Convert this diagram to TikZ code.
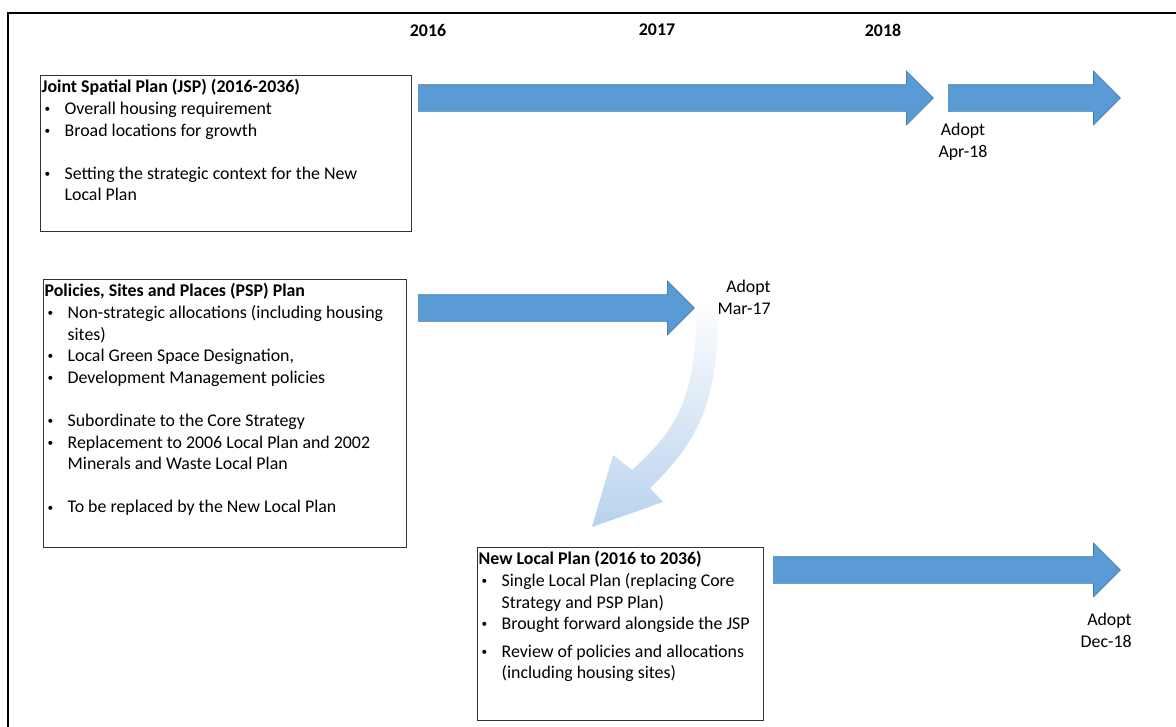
\documentclass[tikz,border=0pt]{standalone}
\usepackage{fontspec}
\setmainfont{Carlito}
\usepackage{tikz}
\usetikzlibrary{positioning}
\usetikzlibrary{shapes.arrows}

\definecolor{planblue}{RGB}{91,155,213}
\definecolor{fadeblue}{RGB}{184,210,237}

\newlength{\pxu}
\setlength{\pxu}{0.02165cm}

\newcommand{\planitem}[1]{\par\hangindent=23\pxu\hangafter=1\noindent
    \hspace*{3\pxu}\makebox[20\pxu][l]{\raisebox{0.2ex}{\scriptsize\textbullet}}#1}
\newcommand{\planskip}{\par\vspace{\baselineskip}}

\tikzset{
    planbox/.style={draw=black!80, line width=0.8pt, anchor=north west,
        inner xsep=1\pxu, inner ysep=4\pxu,
        font=\fontsize{11}{13.3}\selectfont},
    timearrow/.style={single arrow, fill=planblue,
        draw=planblue!80!black, line width=0.4pt,
        inner xsep=0pt, inner ysep=13\pxu,
        single arrow head extend=13.5\pxu, anchor=tail},
    yearlbl/.style={font=\bfseries\fontsize{11}{13.3}\selectfont},
    adoptlbl/.style={inner sep=0pt, font=\fontsize{11}{13.3}\selectfont}
}

\begin{document}
\begin{tikzpicture}[x=0.02165cm, y=-0.02165cm]
        \useasboundingbox (0,0) rectangle (1176,726);
        \draw[line width=1.2pt] (8,13) rectangle (1200,760);

        \foreach \yr/\xx in {2016/428, 2017/657, 2018/883}
        {
            \node[yearlbl] (y\yr) at (\xx,30) {\yr};
        }

        \node[planbox] (jsp) at (40,75)
        {\parbox[t][148\pxu][t]{369\pxu}{%
        \textbf{Joint Spatial Plan (JSP) (2016-2036)}
        \planitem{Overall housing requirement}
        \planitem{Broad locations for growth}
        \planskip
        \planitem{Setting the strategic context for the New\newline Local Plan}}};

        \node[planbox] (psp) at (43,279)
        {\parbox[t][260\pxu][t]{361\pxu}{%
        \textbf{Policies, Sites and Places (PSP) Plan}
        \planitem{Non-strategic allocations (including housing\newline sites)}
        \planitem{Local Green Space Designation,}
        \planitem{Development Management policies}
        \planskip
        \planitem{Subordinate to the Core Strategy}
        \planitem{Replacement to 2006 Local Plan and 2002\newline Minerals and Waste Local Plan}
        \planskip
        \planitem{To be replaced by the New Local Plan}}};

        \node[planbox] (nlp) at (477,547)
        {\parbox[t][165\pxu][t]{284\pxu}{%
        \textbf{New Local Plan (2016 to 2036)}
        \planitem{Single Local Plan (replacing Core\newline Strategy and PSP Plan)}
        \planitem{Brought forward alongside the JSP}
        \par\vspace{6\pxu}
        \planitem{Review of policies and allocations\newline (including housing sites)}}};

        % timeline arrows
        \node[timearrow, minimum height=515\pxu] (jsparrow) at (418,98) {};
        \node[timearrow, minimum height=172\pxu] (jsplater) at (948,98) {};
        \node[timearrow, minimum height=276\pxu] (psparrow) at (418,308) {};
        \node[timearrow, minimum height=347\pxu] (nlparrow) at (773,570) {};

        \node[adoptlbl, align=center] (adoptjsp) at (963,142) {Adopt\\Apr-18};
        \node[adoptlbl, align=right, anchor=north east] (adoptpsp)
        at (771,280) {Adopt\\Mar-17};
        \node[adoptlbl, align=right, anchor=north east] (adoptnlp)
        at (1132,613) {Adopt\\Dec-18};

        % PSP replaced by the new plan
        \shade[top color=white, bottom color=fadeblue]
        (697,297) .. controls (697,400) and (676,430) .. (632,470)
        -- (613,455) -- (592,527) -- (663,502) -- (650,488)
        .. controls (700,440) and (719,400) .. (719,297) -- cycle;
\end{tikzpicture}
\end{document}
